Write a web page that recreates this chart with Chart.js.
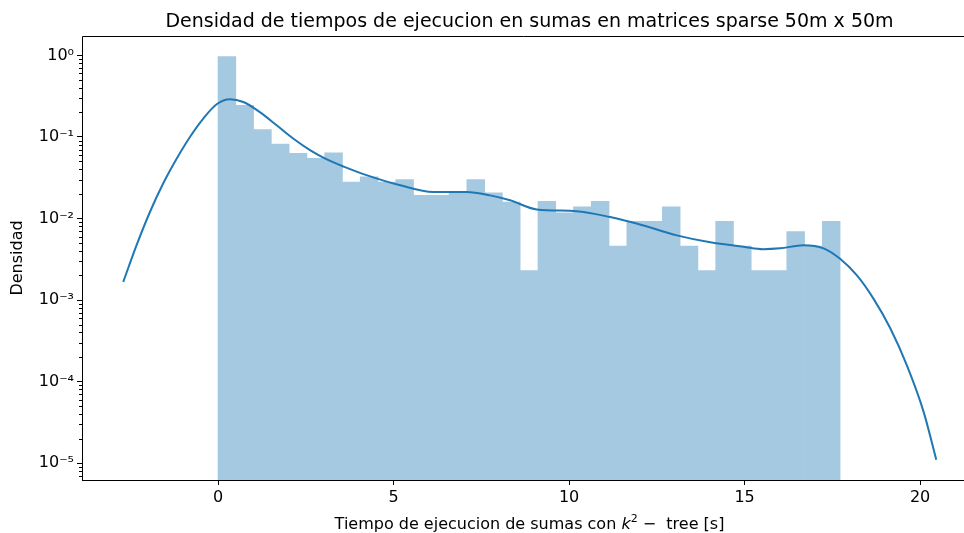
<!DOCTYPE html>
<html>
<head>
<meta charset="utf-8">
<script src="https://cdn.jsdelivr.net/npm/chart.js@4.4.1/dist/chart.umd.min.js"></script>
<style>
    html, body { margin: 0; padding: 0; background: #fff; }
    #wrap { width: 964px; height: 533px; }
</style>
</head>
<body>
<div id="wrap"><canvas id="densChart" width="964" height="533"></canvas></div>
<script>
// Histogram: 35 bins from 0 to ~17.72 s
const binStart = 0;
const binWidth = 0.5063;
const barDensity = [
    0.97, 0.245, 0.123, 0.082, 0.063, 0.0546, 0.064, 0.028, 0.0325, 0.028,
    0.030, 0.0192, 0.0192, 0.0207, 0.030, 0.0207, 0.0159, 0.0023, 0.0162, 0.0117,
    0.0139, 0.0162, 0.0046, 0.0092, 0.0092, 0.0139, 0.0046, 0.0023, 0.0092, 0.0046,
    0.0023, 0.0023, 0.0069, 0.0046, 0.0092
];

// KDE curve
const kdeX = [
    -2.70, -2.32, -1.94, -1.56, -1.18, -0.80, -0.42, -0.04, 0.34, 0.72,
    1.2, 1.67, 2.15, 2.62, 3.1, 3.6, 4.23, 5.19, 6.13, 7.08,
    7.75, 8.32, 9.08, 10.21, 11.17, 12.12, 13.07, 14.02, 14.97, 15.53,
    16.01, 16.68, 17.25, 17.72, 18.2, 18.67, 19.15, 19.62, 20.1, 20.46
];
const kdeY = [
    0.00167, 0.0047, 0.012, 0.027, 0.054, 0.1, 0.168, 0.252, 0.29, 0.268,
    0.20, 0.139, 0.095, 0.069, 0.053, 0.043, 0.034, 0.0255, 0.0211, 0.0211,
    0.0192, 0.0167, 0.0129, 0.0123, 0.0104, 0.0082, 0.0062, 0.0051, 0.0045, 0.0042,
    0.0043, 0.0047, 0.0043, 0.0032, 0.002, 0.00104, 0.00045, 0.000159, 0.0000425, 0.000011
];

const xTickValues = [0, 5, 10, 15, 20];
const yTickValues = [1e-5, 1e-4, 1e-3, 1e-2, 1e-1, 1];
const yTickLabels = ['10⁻⁵', '10⁻⁴', '10⁻³', '10⁻²', '10⁻¹', '10⁰'];

const titleText = 'Densidad de tiempos de ejecucion en sumas en matrices sparse 50m x 50m';

const barData = barDensity.map((v, i) => ({ x: binStart + binWidth * (i + 0.5), y: v }));
const kdeData = kdeX.map((x, i) => ({ x: x, y: kdeY[i] }));

// spines, minor log ticks, title and x label (matplotlib style)
const framePlugin = {
    id: 'frame',
    afterDraw(chart) {
        const { ctx, chartArea: a } = chart;
        const y = chart.scales.y;
        // the axes box runs past the right edge of the picture
        const boxRight = 977;
        const cx = (a.left + boxRight) / 2;
        ctx.save();
        ctx.strokeStyle = '#000';
        ctx.lineWidth = 1;
        ctx.beginPath();
        ctx.moveTo(a.left + 0.5, a.bottom + 0.5);
        ctx.lineTo(a.left + 0.5, a.top + 0.5);
        ctx.lineTo(chart.width, a.top + 0.5);
        ctx.moveTo(a.left, a.bottom + 0.5);
        ctx.lineTo(chart.width, a.bottom + 0.5);
        for (let n = -6; n <= 0; n++) {
            for (let k = 2; k <= 9; k++) {
                const v = k * Math.pow(10, n);
                if (v < y.min || v > y.max) continue;
                const py = Math.round(y.getPixelForValue(v)) + 0.5;
                ctx.moveTo(a.left, py);
                ctx.lineTo(a.left - 3, py);
            }
        }
        ctx.stroke();

        ctx.fillStyle = '#000';
        ctx.textBaseline = 'alphabetic';
        ctx.textAlign = 'center';
        ctx.font = '19px "DejaVu Sans"';
        ctx.fillText(titleText, cx, 27);

        // x label with italic k and superscript 2
        const parts = [
            { t: 'Tiempo de ejecucion de sumas con ', f: '16px "DejaVu Sans"', dy: 0 },
            { t: 'k', f: 'italic 16px "DejaVu Sans"', dy: 0 },
            { t: '2', f: '11px "DejaVu Sans"', dy: -7 },
            { t: ' −  tree [s]', f: '16px "DejaVu Sans"', dy: 0 }
        ];
        let total = 0;
        parts.forEach(p => { ctx.font = p.f; p.w = ctx.measureText(p.t).width; total += p.w; });
        let px = cx - total / 2;
        ctx.textAlign = 'left';
        parts.forEach(p => {
            ctx.font = p.f;
            ctx.fillText(p.t, px, 529 + p.dy);
            px += p.w;
        });
        ctx.restore();
    }
};

const ctx = document.getElementById('densChart').getContext('2d');
new Chart(ctx, {
    type: 'bar',
    data: {
        datasets: [
            {
                type: 'line',
                data: kdeData,
                borderColor: '#1f77b4',
                borderWidth: 2,
                pointRadius: 0,
                cubicInterpolationMode: 'monotone',
                fill: false,
                order: 0
            },
            {
                type: 'bar',
                data: barData,
                backgroundColor: '#a5c9e1',
                borderWidth: 0,
                barPercentage: 1,
                categoryPercentage: 1,
                order: 1
            }
        ]
    },
    options: {
        responsive: false,
        animation: false,
        devicePixelRatio: 1,
        layout: { padding: { left: 0, right: 0, top: 36, bottom: 0 } },
        plugins: {
            legend: { display: false },
            tooltip: { enabled: false },
            title: { display: false }
        },
        scales: {
            x: {
                type: 'linear',
                min: -3.875,
                max: 21.25,
                offset: false,
                afterBuildTicks: (scale) => { scale.ticks = xTickValues.map(v => ({ value: v })); },
                afterFit: (scale) => { scale.height = 53; },
                grid: { display: true, offset: false, drawOnChartArea: false, drawTicks: true, tickLength: 5, color: '#000' },
                border: { display: false },
                ticks: {
                    color: '#000',
                    padding: 3,
                    maxRotation: 0,
                    font: { family: 'DejaVu Sans', size: 16 }
                }
            },
            y: {
                type: 'logarithmic',
                min: 6.2e-6,
                max: 1.73,
                afterBuildTicks: (scale) => { scale.ticks = yTickValues.map(v => ({ value: v })); },
                afterFit: (scale) => { scale.width = 82; },
                grid: { display: true, drawOnChartArea: false, drawTicks: true, tickLength: 5, color: '#000' },
                border: { display: false },
                ticks: {
                    color: '#000',
                    padding: 3,
                    font: { family: 'DejaVu Sans', size: 16 },
                    callback: (value, index) => yTickLabels[index]
                },
                title: {
                    display: true,
                    text: 'Densidad',
                    color: '#000',
                    font: { family: 'DejaVu Sans', size: 16 },
                    padding: { top: 8, bottom: 0 }
                }
            }
        }
    },
    plugins: [framePlugin]
});
</script>
</body>
</html>
